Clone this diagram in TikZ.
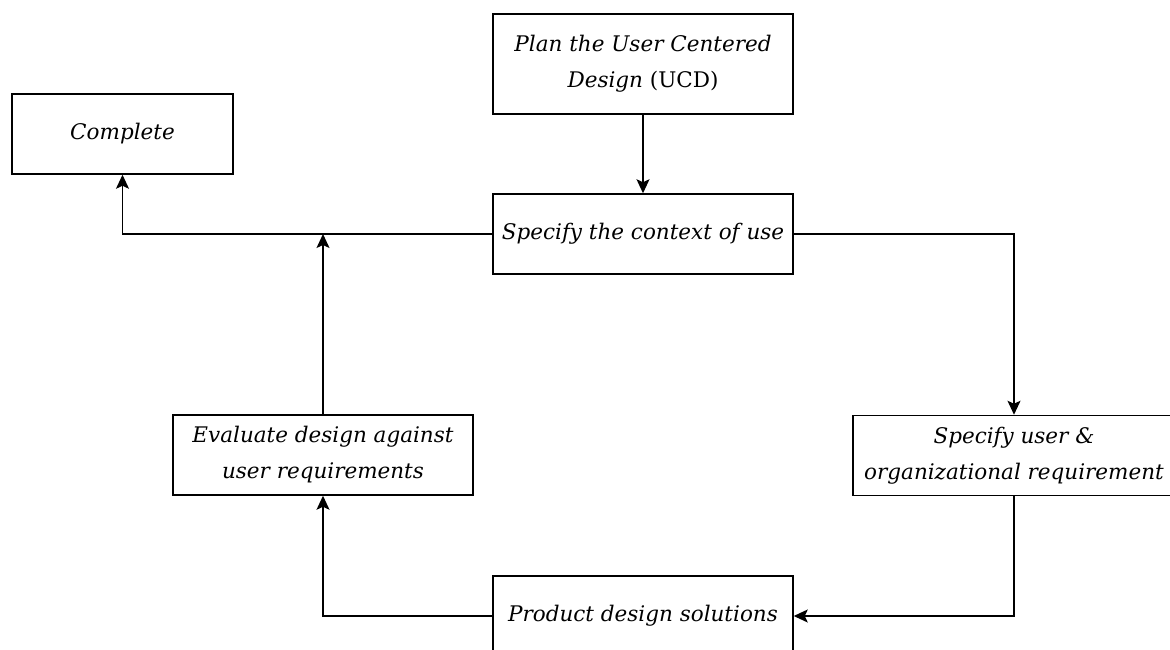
\documentclass[tikz,border=0pt]{standalone}
\usepackage{fontspec}
\setmainfont{DejaVu Serif}
\usetikzlibrary{arrows.meta}
\begin{document}
\begin{tikzpicture}[x=1pt,y=-1pt,
  box/.style={draw, line width=1.5pt, align=center, inner sep=0pt,
    minimum height=80pt, font=\fontsize{21.5}{36}\selectfont\itshape},
  conn/.style={line width=1.5pt, -{Stealth[length=14pt,width=13pt,inset=3pt]}}]
\useasboundingbox (0,0) rectangle (1170,650);
\clip (0,0) rectangle (1170,650);
\node[box, minimum width=300pt, minimum height=100pt] (plan) at (643,64) {Plan the User Centered\\Design {\upshape(UCD)}};
\node[box, minimum width=221pt] (complete) at (122.5,134) {Complete};
\node[box, minimum width=300pt] (context) at (643,234) {Specify the context of use};
\node[box, minimum width=300pt] (eval) at (323,455) {Evaluate design against\\user requirements};
\node[box, minimum width=322pt] (spec) at (1014,455.5) {Specify user \&\\organizational requirement};
\node[box, minimum width=300pt] (prod) at (643,616) {Product design solutions};
\coordinate (jl) at (eval.north |- context.west);
\draw[conn] (plan) -- (context);
\draw[conn] (context.west) -| (complete.south);
\draw[conn] (eval.north) -- (jl);
\draw[conn] (context.east) -| (spec.north);
\draw[conn] (spec.south) |- (prod.east);
\draw[conn] (prod.west) -| (eval.south);
\end{tikzpicture}
\end{document}
